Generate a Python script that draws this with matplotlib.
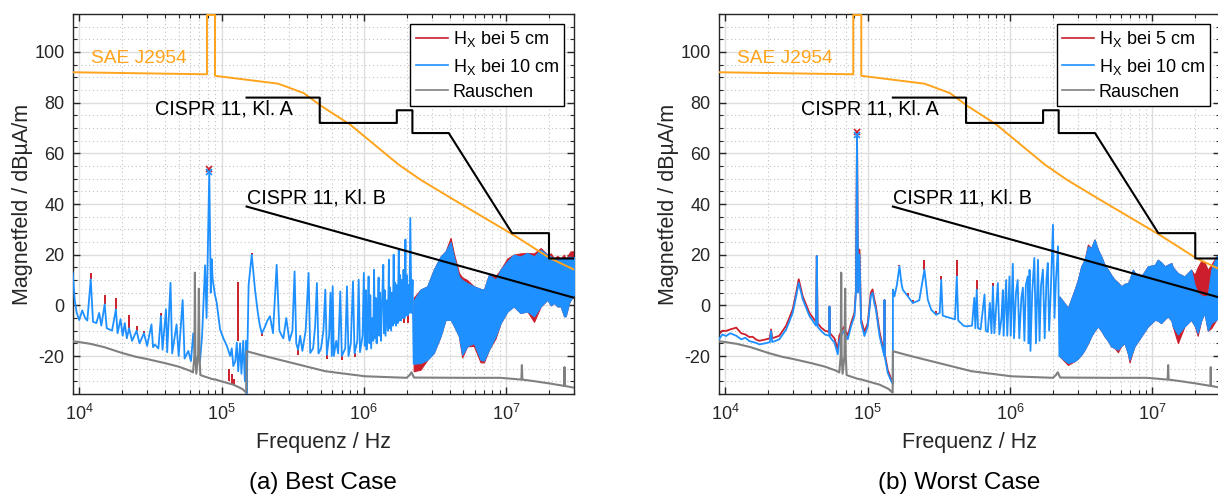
import numpy as np
import matplotlib
matplotlib.use("Agg")
import matplotlib.pyplot as plt
from matplotlib.lines import Line2D
from matplotlib.ticker import LogLocator, MultipleLocator, NullFormatter

plt.rcParams["font.family"] = ["Liberation Sans", "DejaVu Sans"]
plt.rcParams["mathtext.fontset"] = "custom"
plt.rcParams["mathtext.rm"] = "Liberation Sans"
plt.rcParams["mathtext.it"] = "Liberation Sans:italic"
plt.rcParams["mathtext.bf"] = "Liberation Sans:bold"
plt.rcParams["axes.unicode_minus"] = False

RED = "#cc1f2b"
BLUE = "#1e90ff"
GRAY = "#808080"
ORANGE = "#ffa41c"
DARK = "#262626"

# ---- limit lines (Hz, dBuA/m) ----
sae_f = [9e3, 79e3, 79e3, 90e3, 90e3, 250e3, 377e3, 508e3, 803e3, 1.76e6, 2.5e6,
         4.08e6, 11.4e6, 20.2e6, 30e6]
sae_db = [92.0, 91.2, 114.6, 114.6, 90.6, 87.5, 83.8, 78.5, 71.3, 55.5, 49.6,
          42.4, 27.6, 18.7, 14.1]
cispr_a_f = [150e3, 490e3, 490e3, 1.705e6, 1.705e6, 2.194e6, 2.194e6, 3.95e6,
             11e6, 20e6, 20e6, 30e6]
cispr_a_db = [82, 82, 72, 72, 77, 77, 68, 68, 28.5, 28.5, 18.5, 18.5]
cispr_b_f = [150e3, 30e6]
cispr_b_db = [39, 3]

# ---- noise floor (kHz, dB), same in both measurements ----
noise_khz = [9, 10, 12, 15, 20, 25, 30, 40, 50, 60, 63, 64.5, 65, 65.5, 66.5, 68.5,
             69.3, 70, 71, 75, 80, 85, 92, 100, 121, 140, 149.5, 150, 200, 312, 536,
             1020, 2000, 2100, 2160, 2250, 5000, 9100, 12800, 12900, 13000, 15600,
             20000, 25600, 25700, 25800, 30000]
noise_db = [-14.2, -14.5, -15.2, -16.5, -18.8, -20.3, -21.2, -22.8, -24.2, -25.8,
            -26.5, -20, 12.9, -20, -27, -20, 6.6, -20, -27.5, -28, -28.5, -29, -29.4,
            -30, -31.3, -33, -34.5, -18.1, -20, -22.7, -26, -28, -28.6, -27.5, -26.4,
            -28.5, -28.6, -28.6, -29.3, -23.6, -29.3, -29.9, -30.8, -31.8, -24.4,
            -31.8, -32.5]

# ---- (a) best case: H_X at 10 cm trace up to 2.24 MHz (kHz, dB) ----
best_lo_khz = [9.0, 9.3, 9.6, 10.0, 10.5, 11.0, 11.4, 12.05, 12.5, 13.2, 13.8, 14.3,
               15.1, 15.6, 17.0, 18.1, 18.6, 19.5, 20.2, 20.9, 21.6, 22.4, 23.5, 25.3,
               26.5, 28.5, 30.0, 32.2, 33.0, 34.0, 36.0, 37.5, 38.5, 40.7, 41.5, 43.8,
               45.0, 48.3, 50.0, 53.3, 55.0, 58.4, 61.0, 63.3, 65.5, 68.0, 70.6, 73.0,
               76.6, 78.5, 82.0, 84.0, 85.3, 86.6, 90.0, 92.5, 97.7, 103, 109, 115, 118,
               121, 125, 128, 131, 135, 138, 142, 146, 149, 150]
best_lo_db = [13, 2, -3, -5.8, -2, -5, -6, 10.3, -6.5, -7, -3, -8,
              0.4, -9, -10, -1.6, -11, -5.5, -12, -7, -13, -9, -14, -10,
              -15, -11, -16, -7.5, -16.5, -15.5, -17, -4.2, -17.5, -1.6, -18.5, 8.9,
              -19, -7.5, -20, 2.1, -21, -18, -22, -11, -23, -20, -22, -12,
              15.8, -5, 52.7, 5, 18.2, 10.3, 4, 1, -9.5, -13, -16, -20, -17,
              -24, -22, -14.7, -26, -15, -27, -14, -30, -14, -35]
best_comb_khz = [155, 163, 168, 172, 180, 186, 192, 200, 210, 219, 230, 244, 255, 265,
                 272, 285, 300, 315, 326, 335, 345, 357, 370, 390, 409, 420, 440, 455,
                 468, 480, 500, 520, 536, 550, 570, 583, 595, 604, 615, 640, 660, 683,
                 700, 740, 761, 780, 810, 839, 860, 900, 920, 940, 980]
best_comb_db = [8, 20, 12, 6, -3, -8, -11, -9, -6, -4.3, -11, 16, -10, -12,
                -13, -5, -14, -10, 13.4, -15, -17.5, -12, -18, -10, 12.8, -18.8, -17, -8,
                8.8, -19, -17, -10, 6.2, -19.5, -12, 5, -20, 7.5, -20, -14, -19, 5.5,
                -20, -17, 7.5, -20, -15, 9.5, -19, -14, 10.1, -18.5, -12]
best_hi_khz = [1000, 1015, 1030, 1045, 1060, 1080, 1095, 1110, 1125, 1150, 1165, 1180,
               1195, 1210, 1230, 1250, 1270, 1285, 1300, 1320, 1340, 1370, 1385, 1400,
               1420, 1450, 1475, 1500, 1515, 1530, 1555, 1580, 1600, 1620, 1640, 1660,
               1680, 1700, 1730, 1760, 1780, 1800, 1825, 1850, 1875, 1900, 1930, 1960,
               1980, 2000, 2030, 2060, 2090, 2120, 2160, 2200, 2240]
best_hi_db = [12.8, -16, 6, -17.5, -8, 11.4, -15, 4, -17, -5, -14, 14,
              -13, 3, -15, -3, 11, -12, 5, -14, 0, 16, -11, 6,
              -12, 2, -10, 18, -9, 7, -10, 5, -8, 20, -7, 9,
              -8, 8, -7, 22, -6, 12, -6, 10, -5, 14, -5, 26,
              -4, 12, -4, 8, -3, 34.5, -3, 10, -23]
# where the 5 cm trace (red) sticks out of the 10 cm trace: (kHz, from, to)
best_red_khz = [9.0, 12.05, 15.1, 18.1, 22.4, 25.3, 28.5, 37.5, 82.0, 112, 118, 122,
                131, 163, 192, 345, 550, 700, 860, 1900, 2050]
best_red_lo = [13, 10.3, 0.4, -1.6, -9, -10, -11, -4.2, 52.7, -30, -31, -32,
               -14, 20, -12, -19.5, -21, -21.5, -20.5, -7, -7]
best_red_hi = [18.8, 12.9, 4.1, 3.0, -3.9, -8.2, -10, -2.9, 53.8, -25, -27, -29,
               9.1, 20.6, -10.5, -17.5, -19.5, -20, -19, -4, -4]
# dense band above 2.24 MHz (MHz, dB)
best_band_mhz = [2.24, 2.50, 2.79, 3.10, 3.46, 3.75, 4.07, 4.29, 4.66, 4.91, 5.32,
                 5.93, 6.61, 6.98, 7.57, 8.43, 9.14, 10.2, 11.3, 12.6, 14.1, 15.7,
                 17.5, 19.5, 20.6, 21.7, 22.9, 24.2, 25.5, 26.2, 27.7, 28.4, 30.0]
best_band_hi = [2, 6.2, 7.5, 14.1, 19.3, 21.3, 25, 19.3, 11.4, 10, 8.8,
                7.5, 6.5, 6.2, 12.1, 10.1, 14.1, 17.4, 20, 19.3, 20.7, 19.3,
                22, 20, 19.3, 18.5, 18, 18.5, 18.7, 18, 19.3, 19, 19]
best_band_lo = [-23, -22.8, -21.5, -18.8, -12.2, -5.7, -5.7, -8, -12.2, -19.5, -16.2,
                -14.9, -21.5, -21.8, -17.5, -12.2, -7, -2.4, -0.4, -3, -2.4, -4.3,
                -0.4, 2.2, 0, 1, -0.4, -0.4, -4.3, -4.3, 1, 2.2, 4.2]
best_band_red_hi = [3, 6.2, 7.5, 14.1, 19.3, 21.3, 26.6, 20.5, 12.8, 11, 10,
                    7.5, 6.5, 6.2, 12.1, 11.5, 14.1, 18.5, 20, 20.5, 20.7, 20.5,
                    22.6, 20, 20.5, 18.5, 19.5, 18.5, 20, 18, 20.5, 21.3, 21.3]
best_band_red_lo = [-26, -25.4, -21.5, -18.8, -12.2, -5.7, -5.7, -8, -12.2, -20.5,
                    -16.2, -16, -22.5, -22.5, -17.5, -13, -7, -2.4, -0.4, -3, -2.4,
                    -6.5, -0.4, 2.2, 0, 1, -0.4, -0.4, -4.3, -4.3, 1, 2.2, 4.2]
best_peak = (82e3, 53.8, 52.7)

# ---- (b) worst case ----
worst_khz = [9.0, 9.5, 10.1, 10.8, 11.9, 12.9, 13.8, 14.7, 16.4, 17.3, 19.0, 20.5,
             20.9, 21.3, 23.9, 26.7, 29.7, 31.4, 32.7, 34.9, 38.9, 43.2, 43.8, 44.4,
             47.0, 50.0, 53.5, 53.8, 54.2, 58.3, 61.5, 63.0, 64.9, 68.0, 72.3, 76.3,
             80.6, 82.5, 84.0, 85.5, 87.4, 89.7, 94.7, 100, 105, 108, 111, 114, 121,
             128, 130.5, 131, 131.5, 138, 146, 150,
             150.2, 154, 160, 167, 172, 176, 191, 207, 230, 250, 264, 279, 302, 320,
             328, 336, 346, 380, 410, 422, 432, 441, 470, 491, 540, 560, 570, 583,
             595, 620, 661, 675, 697, 720, 740, 757, 775, 800, 820, 840, 870, 889,
             900, 938, 955, 990, 1010, 1045, 1065, 1100, 1130, 1160, 1200, 1230,
             1260, 1290, 1330, 1350, 1370, 1390, 1430, 1480, 1520, 1570, 1610, 1650,
             1700, 1750, 1800, 1840, 1880, 1930, 2000, 2050, 2100, 2170, 2220]
worst_db = [-13.4, -11.5, -12.1, -11, -12, -13.4, -12.8, -14.1, -14.8, -15.4, -15, -14.5,
            -10.1, -14.5, -13.4, -9.5, -2.9, 3.7, 8.9, 2.4, -4.2, -8, 19.5, -8.5,
            -10.1, -11.5, -12, -0.5, -12.5, -14.7, -19.3, -14, -12.1, -10, -13.4, -8.2,
            -4.2, 5, 67.4, 5, 20, -6.8, -12.1, -8.2, 3.7, 5, 1, -1.6, -12.1,
            -18, -20, 2.1, -20, -26.6, -29.9, -31,
            6.2, 3.6, 8, 15.4, 9, 6.2, 3.6, 0.9, 2, 14.1, 2.2, -1.7, -3.7, -3,
            10.1, -4, -4.3, -5, -5.5, 11.4, -6, -6.5, -8, -8.3, -8, 3, -9, 6.2,
            -9, -9.5, 4.2, -10, -10.5, 1, -11, 7.5, -11, 0, 8.8, -11.5, -5, 6,
            -12, 10, -12, 11.4, -12, 16.4, -13, 5, 10, -13, 3, 7,
            -14, 8, 11.4, -15, 14, -18, 5, 18.7, -15, 18, -14, 8,
            14.1, -13, 10, 16.7, -10, 5, 31.8, -5, 10, 23.3, -20]
# 5 cm trace below 150 kHz (kHz, dB), visible just above the 10 cm trace
worst_red_khz = [9.0, 9.5, 10.1, 10.8, 11.9, 12.9, 13.8, 14.7, 15.5, 16.4, 17.3, 19.0,
                 20.5, 20.9, 21.3, 23.9, 26.7, 29.7, 31.4, 32.7, 34.9, 38.9, 43.2, 43.8,
                 44.4, 47.0, 50.0, 53.5, 53.8, 54.2, 58.3, 61.5, 63.0, 64.9, 68.0, 72.3,
                 76.3, 80.6, 82.5, 84.0, 85.5, 87.4, 89.7, 94.7, 100, 105, 108, 111, 114,
                 121, 128, 130.5, 131, 131.5, 138, 146, 150]
worst_red_db = [-11.4, -10, -10.1, -9.5, -8.8, -11, -11.5, -12.5, -12.4, -13.5, -14, -13.5,
                -13, -9.5, -13, -12, -8, -1.5, 5, 10.3, 3.5, -3, -6.5, 19.5,
                -7, -8.8, -10, -10.5, -0.5, -11, -13, -17.5, -12, -10.5, -8.5, -12,
                -7, -3, 6, 68.3, 6, 22, -5.5, -10.5, -7, 5, 6.3, 2.5, -0.5,
                -10.5, -17, -19, 2.1, -19, -25.5, -29, -30]
worst_red_spk_khz = [167, 191, 207, 250, 302, 328, 422, 583, 757]
worst_red_spk_lo = [15.4, 3.6, 0.9, 14.1, -3.7, 10.1, 11.4, 6.2, 7.5]
worst_red_spk_hi = [16, 5, 2.2, 18, -2.4, 11.6, 18, 10.1, 8.8]
worst_band_mhz = [2.22, 2.55, 2.84, 2.99, 3.16, 3.34, 3.52, 3.71, 3.92, 4.14, 4.37,
                  4.61, 4.87, 5.13, 5.42, 5.72, 6.04, 6.37, 6.72, 6.90, 7.29, 7.48,
                  8.34, 9.29, 10.4, 10.9, 11.5, 12.2, 12.8, 13.6, 13.9, 15.1, 16.8,
                  18.7, 19.8, 20.8, 22.0, 23.2, 24.5, 25.9, 28.1, 30.0]
worst_band_hi = [3.5, -1, 6.2, 10, 15.4, 18, 23.3, 22.6, 26, 22, 19.3,
                 16, 14.1, 12, 10.1, 9, 7.5, 8.5, 8.8, 10, 14.1, 13,
                 11.4, 15.4, 16, 18, 17, 15.4, 16, 16.7, 15, 12.7, 11.4,
                 14.1, 8, 5, 4, 3.5, 4, 14.1, 19.3, 20]
worst_band_lo = [-20, -22.8, -22, -21, -19.5, -17.5, -15, -12.2, -10, -8.3, -10,
                 -12.2, -14, -16.2, -16.8, -17.5, -16, -14.9, -19, -21.5, -18, -16.2,
                 -12.2, -8.3, -5.7, -6, -7, -5.5, -4.3, -6, -8.3, -11.5, -8.3,
                 -5.7, -8, -10.9, -6, -3, -10, -7, -5.7, -4]
worst_band_red_hi = [3.5, -1, 6.2, 10, 15.4, 18, 24, 22.6, 26, 22, 19.3,
                     16, 14.1, 12, 10.1, 9, 7.5, 8.5, 8.8, 10, 14.1, 13,
                     11.4, 15.4, 16, 18, 17, 15.4, 16, 16.7, 15, 12.7, 11.4,
                     14.1, 12, 15, 17.5, 17, 14, 16, 19.3, 20]
worst_band_red_lo = [-20, -23.5, -22, -21, -19.5, -17.5, -15, -12.2, -10, -8.3, -10,
                     -12.2, -14, -16.2, -16.8, -18.5, -16, -14.9, -19, -22.5, -18,
                     -16.2, -12.2, -8.3, -5.7, -6, -7, -5.5, -4.3, -6, -8.3, -14.9,
                     -8.3, -5.7, -8, -12, -6, -3, -10, -9, -5.7, -4]
worst_peak = (84e3, 68.3, 67.4)

ytick_vals = [-20, 0, 20, 40, 60, 80, 100]


def khz(v):
    return np.asarray(v, dtype=float) * 1e3


def mhz(v):
    return np.asarray(v, dtype=float) * 1e6


def style_axes(ax):
    ax.set_xscale("log")
    ax.set_xlim(9e3, 30e6)
    ax.set_ylim(-35, 115)
    ax.set_yticks(ytick_vals)
    ax.yaxis.set_minor_locator(MultipleLocator(5))
    ax.xaxis.set_major_locator(LogLocator(base=10, numticks=10))
    ax.xaxis.set_minor_locator(LogLocator(base=10, subs=np.arange(2, 10), numticks=20))
    ax.xaxis.set_minor_formatter(NullFormatter())
    ax.grid(which="major", color="#dedede", lw=1.0, ls="-")
    ax.grid(which="minor", color="#c4c4c4", lw=0.8, ls=(0, (1, 2.5)))
    ax.set_axisbelow(True)
    ax.tick_params(which="both", direction="in", top=True, right=True, colors=DARK,
                   labelsize=13)
    ax.tick_params(which="major", length=5, width=1.0)
    ax.tick_params(which="minor", length=3, width=0.8)
    ax.tick_params(axis="y", pad=6)
    ax.tick_params(axis="x", pad=7)
    for sp in ax.spines.values():
        sp.set_color(DARK)
        sp.set_linewidth(1.0)
    ax.set_xlabel("Frequenz / Hz", fontsize=15.5, color=DARK, labelpad=6)
    ax.set_ylabel("Magnetfeld / dBµA/m", fontsize=15.5, color=DARK)
    ax.yaxis.set_label_coords(-0.08, 0.5)


def draw_limits(ax):
    ax.plot(sae_f, sae_db, color=ORANGE, lw=1.4, zorder=6)
    ax.plot(cispr_a_f, cispr_a_db, color="black", lw=1.5, zorder=7)
    ax.plot(cispr_b_f, cispr_b_db, color="black", lw=1.5, zorder=7)
    ax.text(12.1e3, 97.6, "SAE J2954", color=ORANGE, fontsize=13.8, va="center",
            zorder=8)
    ax.text(34e3, 77.4, "CISPR 11, Kl. A", color="black", fontsize=14.2, va="center",
            zorder=8)
    ax.text(150e3, 42.4, "CISPR 11, Kl. B", color="black", fontsize=14.2, va="center",
            zorder=8)


def draw_legend(ax):
    handles = [Line2D([], [], color=RED, lw=1.2),
               Line2D([], [], color=BLUE, lw=1.2),
               Line2D([], [], color=GRAY, lw=1.2)]
    labels = [r"H$_\mathrm{X}$ bei 5 cm", r"H$_\mathrm{X}$ bei 10 cm", "Rauschen"]
    leg = ax.legend(handles, labels, loc="upper right", fontsize=13,
                    handlelength=1.8, handletextpad=0.25, labelspacing=0.4,
                    borderpad=0.3, borderaxespad=0.55, fancybox=False,
                    framealpha=1.0, edgecolor="black")
    leg.get_frame().set_linewidth(1.0)
    leg.set_zorder(20)


fig = plt.figure(figsize=(12.18, 4.96), dpi=100)
ax_a = fig.add_axes([0.0597, 0.2056, 0.4116, 0.7662])
ax_b = fig.add_axes([0.5903, 0.2056, 0.4116, 0.7662])

# (a) best case
best_khz = best_lo_khz + best_comb_khz + best_hi_khz
best_db = best_lo_db + best_comb_db + best_hi_db
ax = ax_a
ax.fill_between(mhz(best_band_mhz), best_band_red_lo, best_band_red_hi,
                color=RED, lw=0.8, zorder=2)
ax.vlines(khz(best_red_khz), best_red_lo, best_red_hi, color=RED, lw=1.4, zorder=2)
ax.plot(khz(best_khz), best_db, color=BLUE, lw=1.3, zorder=3)
ax.fill_between(mhz(best_band_mhz), best_band_lo, best_band_hi, color=BLUE, lw=0.8,
                zorder=3)
ax.plot(khz(noise_khz), noise_db, color=GRAY, lw=1.5, zorder=4)
ax.plot(best_peak[0], best_peak[1], "x", color=RED, ms=4, mew=1.2, zorder=5)
ax.plot(best_peak[0], best_peak[2], "x", color=BLUE, ms=4, mew=1.2, zorder=5)
style_axes(ax)
draw_limits(ax)
draw_legend(ax)

# (b) worst case
ax = ax_b
ax.fill_between(mhz(worst_band_mhz), worst_band_red_lo, worst_band_red_hi,
                color=RED, lw=0.8, zorder=2)
ax.plot(khz(worst_red_khz), worst_red_db, color=RED, lw=1.3, zorder=2)
ax.vlines(khz(worst_red_spk_khz), worst_red_spk_lo, worst_red_spk_hi, color=RED,
          lw=1.4, zorder=2)
ax.plot(khz(worst_khz), worst_db, color=BLUE, lw=1.3, zorder=3)
ax.fill_between(mhz(worst_band_mhz), worst_band_lo, worst_band_hi, color=BLUE, lw=0.8,
                zorder=3)
ax.plot(khz(noise_khz), noise_db, color=GRAY, lw=1.5, zorder=4)
ax.plot(worst_peak[0], worst_peak[1], "x", color=RED, ms=4, mew=1.2, zorder=5)
ax.plot(worst_peak[0], worst_peak[2], "x", color=BLUE, ms=4, mew=1.2, zorder=5)
style_axes(ax)
draw_limits(ax)
draw_legend(ax)

fig.text(323 / 1218, 1 - 483 / 496, "(a) Best Case", ha="center", va="center",
         fontsize=17.5, color="black")
fig.text(959 / 1218, 1 - 483 / 496, "(b) Worst Case", ha="center", va="center",
         fontsize=17.5, color="black")

fig.savefig("out.png", dpi=100)
